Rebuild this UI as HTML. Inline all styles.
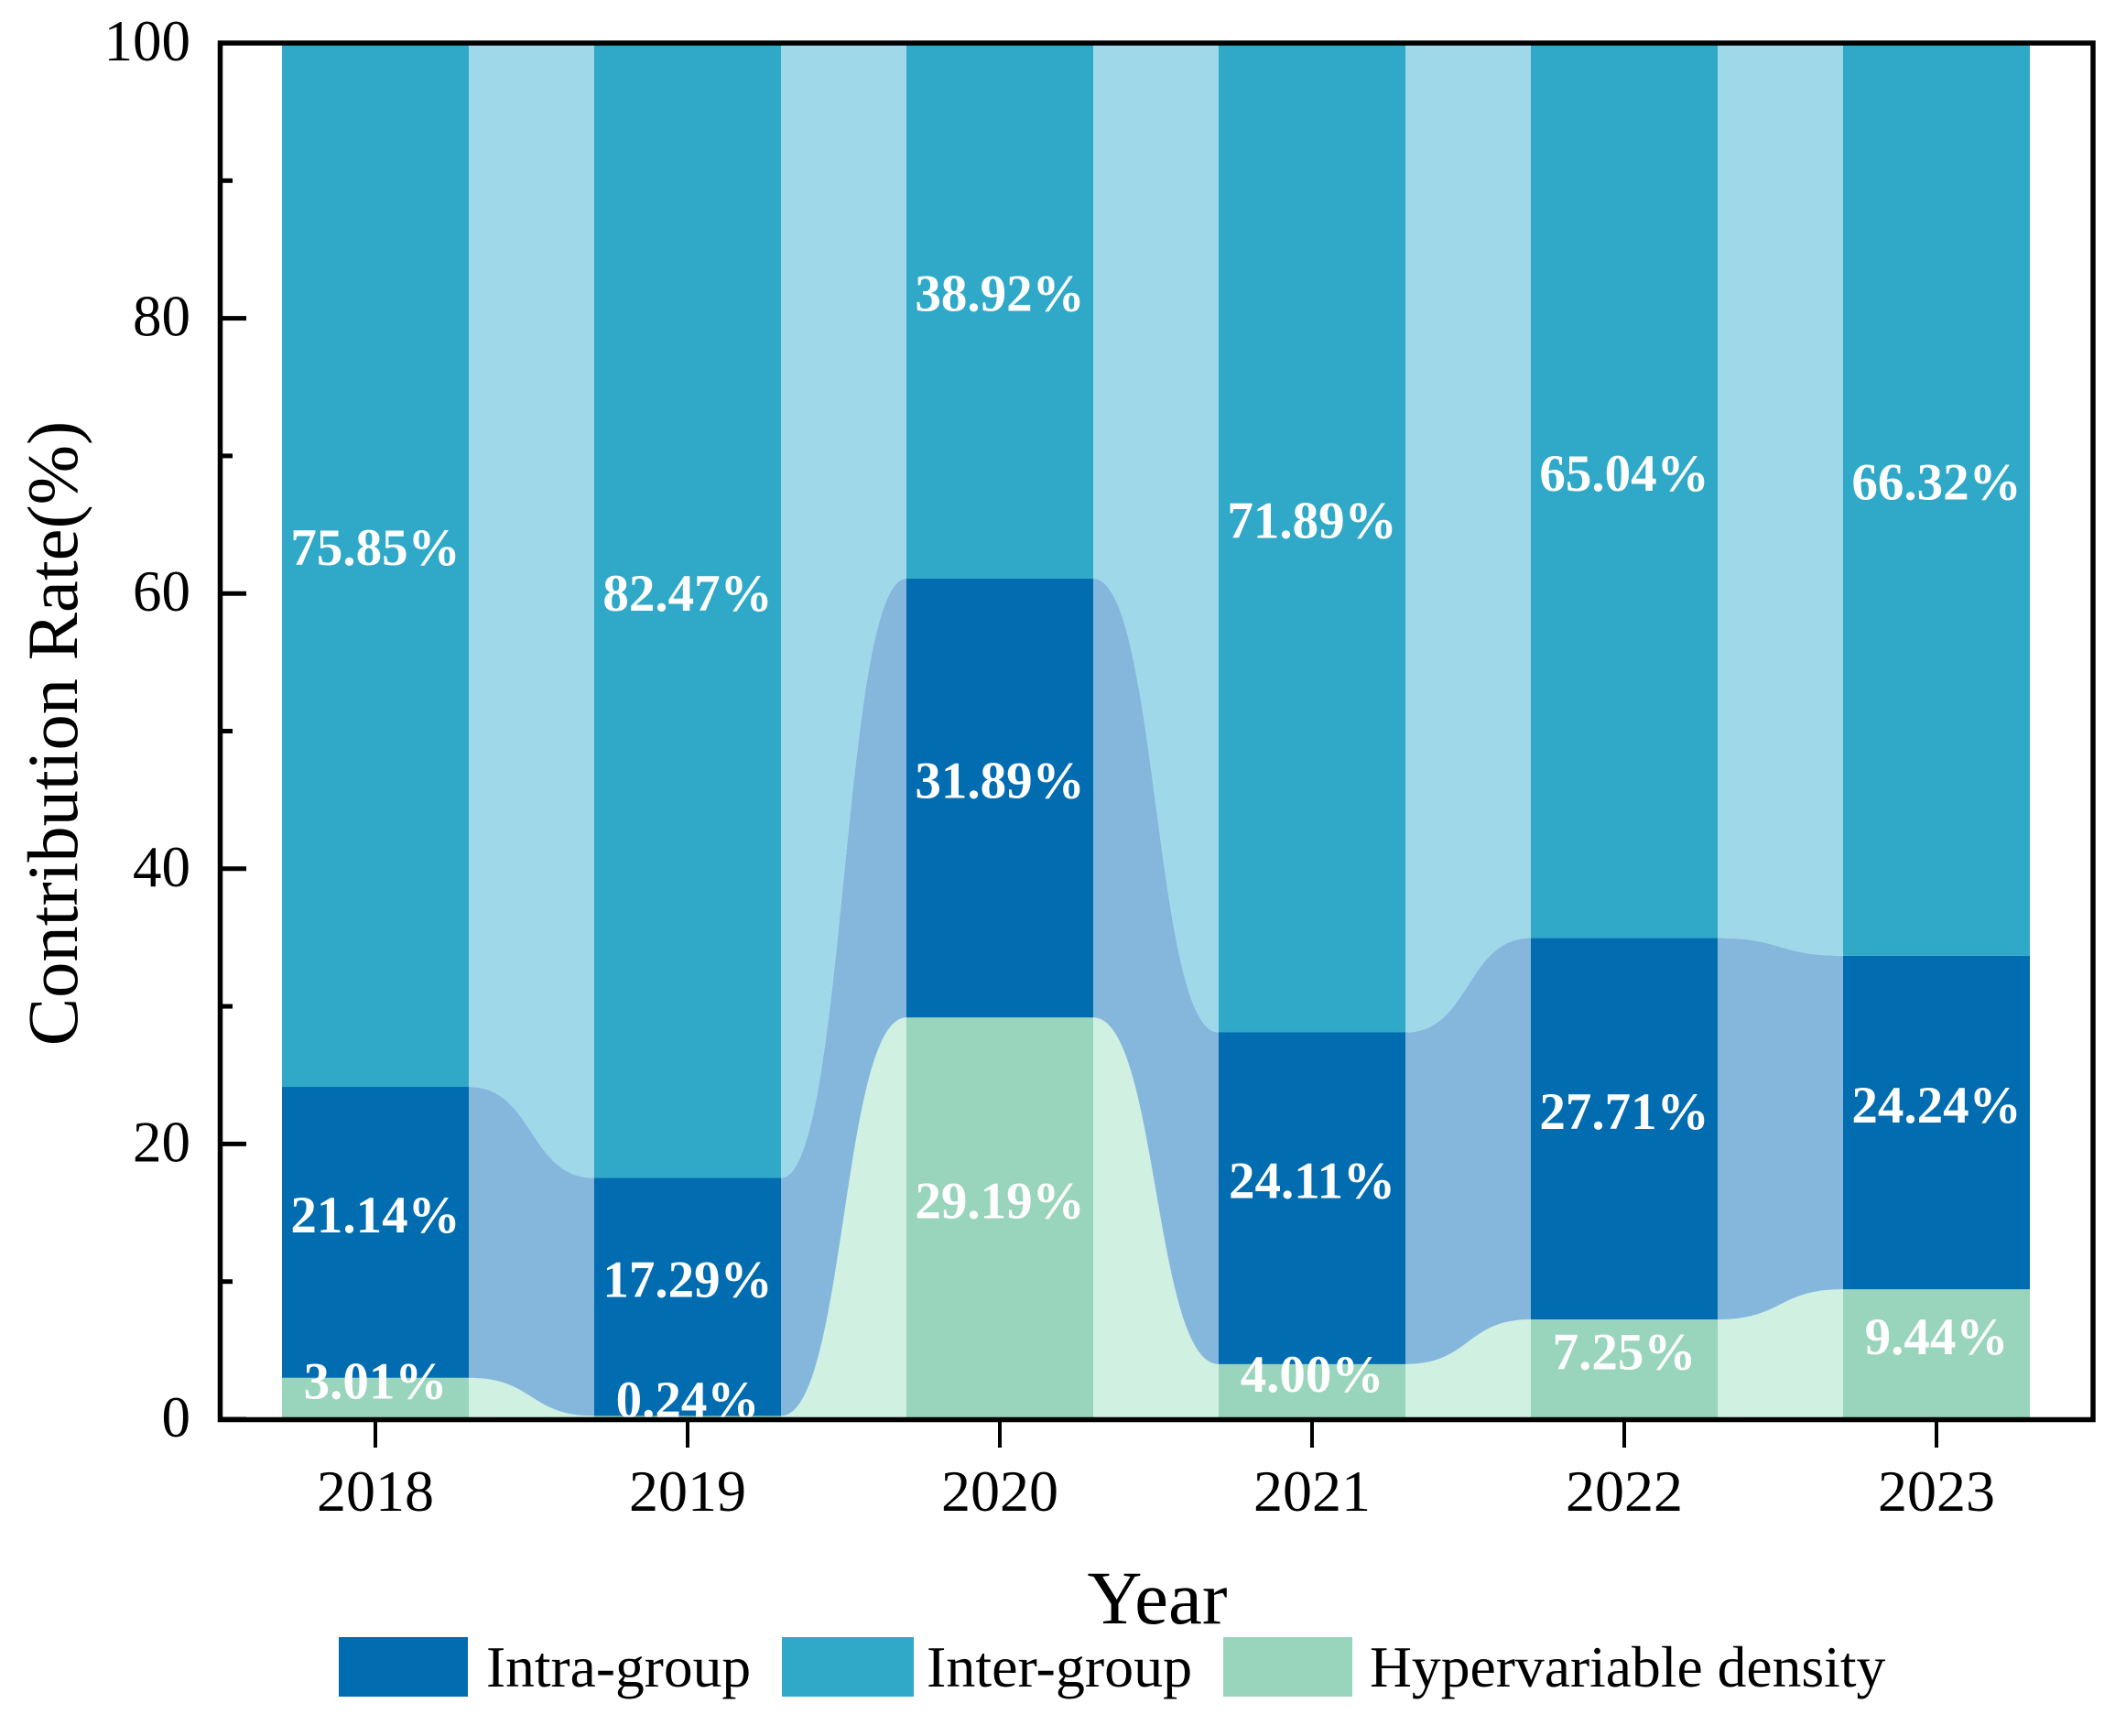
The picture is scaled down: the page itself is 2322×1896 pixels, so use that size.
<!DOCTYPE html>
<html lang="en">
<head>
<meta charset="utf-8">
<title>Contribution Rate by Year</title>
<style>
  html, body { margin: 0; padding: 0; background: #ffffff; }
  body { width: 2322px; height: 1896px; overflow: hidden; }
  svg { display: block; font-family: "Liberation Serif", "Times New Roman", serif; }
</style>
</head>
<body>
<svg id="chart" xmlns="http://www.w3.org/2000/svg" width="2322" height="1896" viewBox="0 0 2322 1896">
  <rect x="0" y="0" width="2322" height="1896" fill="#ffffff"/>
  <g id="links"></g>
  <g id="bars"></g>
  <g id="labels"></g>
  <g id="axes"></g>
  <text transform="translate(84,801) rotate(-90)" text-anchor="middle" font-size="78.5" fill="#000">Contribution Rate(%)</text>
  <text x="1264" y="1773" text-anchor="middle" font-size="83" fill="#000">Year</text>
  <g>
    <g>
      <rect x="370" y="1788" width="141" height="65" fill="#016CAF"/>
      <text x="531" y="1842" font-size="63.5" fill="#000">Intra-group</text>
    </g>
    <g>
      <rect x="854" y="1788" width="144" height="65" fill="#30A9C8"/>
      <text x="1012" y="1842" font-size="64" fill="#000">Inter-group</text>
    </g>
    <g>
      <rect x="1336" y="1788" width="141" height="65" fill="#99D4BC"/>
      <text x="1496" y="1842" font-size="63.6" fill="#000">Hypervariable density</text>
    </g>
  </g>
</svg>
<script>
const years = ['2018', '2019', '2020', '2021', '2022', '2023'];
const hypervariable = [3.01, 0.24, 29.19, 4.00, 7.25, 9.44];
const intraGroup = [21.14, 17.29, 31.89, 24.11, 27.71, 24.24];
const interGroup = [75.85, 82.47, 38.92, 71.89, 65.04, 66.32];
const yMajorTicks = [0, 20, 40, 60, 80, 100];
const yMinorTicks = [10, 30, 50, 70, 90];

const NS = 'http://www.w3.org/2000/svg';
const BAR_WIDTH = 204;
const CURVE = 0.52;
const xCenter = function (i) { return 410 + i * 341; };
const yScale = function (v) { return 1550 - v * 15.03; };

function make(tag, parent, attrs) {
  const el = document.createElementNS(NS, tag);
  Object.keys(attrs).forEach(function (k) { el.setAttribute(k, attrs[k]); });
  parent.appendChild(el);
  return el;
}

const linksG = document.getElementById('links');
const barsG = document.getElementById('bars');
const labelsG = document.getElementById('labels');
const axesG = document.getElementById('axes');

const seriesList = [
  { key: 'hypervariable', values: hypervariable, bar: '#99D4BC', link: '#D0F0E2' },
  { key: 'intra-group', values: intraGroup, bar: '#016CAF', link: '#85B7DD' },
  { key: 'inter-group', values: interGroup, bar: '#30A9C8', link: '#9ED8E9' }
];

const baseline = years.map(function () { return 0; });
seriesList.forEach(function (s) {
  const lower = baseline.slice();
  const upper = lower.map(function (b, i) { return b + s.values[i]; });

  for (let i = 0; i < years.length - 1; i++) {
    const x0 = xCenter(i) + BAR_WIDTH / 2;
    const x1 = xCenter(i + 1) - BAR_WIDTH / 2;
    const c0 = x0 + (x1 - x0) * CURVE;
    const c1 = x1 - (x1 - x0) * CURVE;
    const d = 'M' + x0 + ' ' + yScale(lower[i]) +
      'C' + c0 + ' ' + yScale(lower[i]) + ' ' + c1 + ' ' + yScale(lower[i + 1]) + ' ' + x1 + ' ' + yScale(lower[i + 1]) +
      'L' + x1 + ' ' + yScale(upper[i + 1]) +
      'C' + c1 + ' ' + yScale(upper[i + 1]) + ' ' + c0 + ' ' + yScale(upper[i]) + ' ' + x0 + ' ' + yScale(upper[i]) + 'Z';
    const link = make('path', linksG, { d: d, fill: s.link });
    
    
  }

  years.forEach(function (year, i) {
    const bar = make('rect', barsG, {
      x: xCenter(i) - BAR_WIDTH / 2,
      y: yScale(upper[i]),
      width: BAR_WIDTH,
      height: yScale(lower[i]) - yScale(upper[i]),
      fill: s.bar
    });
    
    

    const label = make('text', labelsG, {
      x: xCenter(i),
      y: yScale((lower[i] + upper[i]) / 2),
      'text-anchor': 'middle',
      'font-size': 57,
      'font-weight': 'bold',
      fill: '#ffffff'
    });
    label.textContent = s.values[i].toFixed(2) + '%';
    
    
  });

  upper.forEach(function (u, i) { baseline[i] = u; });
});

const frame = make('rect', axesG, { x: 240.5, y: 47, width: 2045.5, height: 1503.5, fill: 'none', stroke: '#000', 'stroke-width': 5.5 });



yMajorTicks.forEach(function (v) {
  const y = yScale(v);
  const tick = make('line', axesG, { x1: 240, x2: 269, y1: y, y2: y, stroke: '#000', 'stroke-width': 5 });
  
  
  const lab = make('text', axesG, { x: 208, y: y + 19, 'text-anchor': 'end', 'font-size': 63, fill: '#000' });
  lab.textContent = String(v);
  
  
});

yMinorTicks.forEach(function (v) {
  const y = yScale(v);
  const tick = make('line', axesG, { x1: 240, x2: 254, y1: y, y2: y, stroke: '#000', 'stroke-width': 5 });
  
  
});

years.forEach(function (year, i) {
  const x = xCenter(i);
  const tick = make('line', axesG, { x1: x, x2: x, y1: 1550, y2: 1581, stroke: '#000', 'stroke-width': 4 });
  
  
  const lab = make('text', axesG, { x: x, y: 1650, 'text-anchor': 'middle', 'font-size': 64, fill: '#000' });
  lab.textContent = year;
  
  
});
</script>
</body>
</html>
